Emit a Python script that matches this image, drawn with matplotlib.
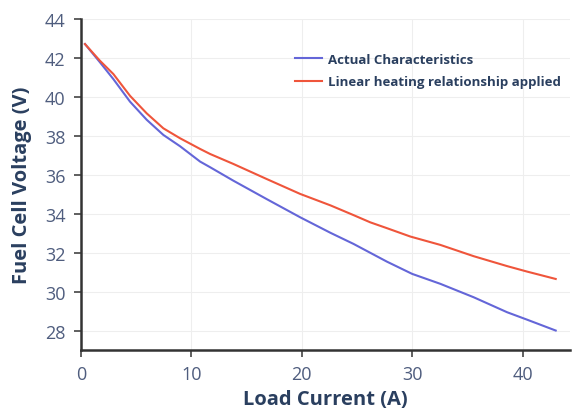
import matplotlib
matplotlib.use("Agg")
import matplotlib.pyplot as plt

plt.rcParams['font.family'] = ['Open Sans', 'DejaVu Sans']

# Load current (A) and stack voltage (V) for both models
current_actual = [0.36, 1.72, 2.93, 4.44, 5.95, 7.46, 8.97, 10.79, 11.7, 13.8, 16.8,
                  19.85, 22.6, 24.69, 27.71, 30.0, 32.55, 35.57, 38.6, 40.4, 43.0]
voltage_actual = [42.72, 41.78, 40.92, 39.76, 38.83, 38.05, 37.47, 36.68, 36.39, 35.70, 34.76,
                  33.82, 33.02, 32.45, 31.54, 30.91, 30.40, 29.71, 28.94, 28.56, 28.0]

current_heating = [0.36, 1.72, 2.93, 4.44, 5.95, 7.46, 8.97, 10.79, 11.7, 13.8, 16.8,
                   19.85, 22.6, 24.69, 26.2, 27.71, 29.83, 32.55, 35.57, 38.6, 40.4, 43.0]
voltage_heating = [42.72, 41.86, 41.18, 40.06, 39.16, 38.39, 37.88, 37.33, 37.07, 36.56, 35.79,
                   35.02, 34.43, 33.93, 33.56, 33.26, 32.83, 32.40, 31.82, 31.31, 31.03, 30.65]

x_ticks = [0, 10, 20, 30, 40]
y_ticks = [28, 30, 32, 34, 36, 38, 40, 42, 44]

series_labels = ["Actual Characteristics", "Linear heating relationship applied"]

tick_color = '#4f5d7e'
title_color = '#2a3f5f'

fig = plt.figure(figsize=(5.72, 4.10), dpi=100)
ax = fig.add_axes([0.1416, 0.1439, 0.855, 0.807])

ax.plot(current_actual, voltage_actual, color='#6466d8', lw=1.5, label=series_labels[0])
ax.plot(current_heating, voltage_heating, color='#ef553b', lw=1.5, label=series_labels[1])

ax.set_xlim(0, 44.3)
ax.set_ylim(27, 44)
ax.set_xticks(x_ticks)
ax.set_yticks(y_ticks)

ax.grid(True, color='#eeeeee', lw=0.8)
ax.set_axisbelow(True)

for side in ['top', 'right']:
    ax.spines[side].set_visible(False)
for side in ['left', 'bottom']:
    ax.spines[side].set_color('#333333')
    ax.spines[side].set_linewidth(1.8)

ax.tick_params(axis='both', colors='#444444', length=5, width=1.2,
               labelsize=13, labelcolor=tick_color, pad=6)

ax.set_xlabel("Load Current (A)", fontsize=14.5, fontweight='bold', color=title_color, labelpad=4)
ax.set_ylabel("Fuel Cell Voltage (V)", fontsize=14.5, fontweight='bold', color=title_color, labelpad=9)

leg = ax.legend(loc='upper left', bbox_to_anchor=(0.437, 0.899), frameon=False,
                fontsize=9.5, handlelength=2.1, handletextpad=0.45, labelspacing=0.74,
                borderpad=0, borderaxespad=0)
for t in leg.get_texts():
    t.set_color(title_color)
    t.set_fontweight('bold')

fig.savefig("out.png", dpi=100, facecolor='white')
